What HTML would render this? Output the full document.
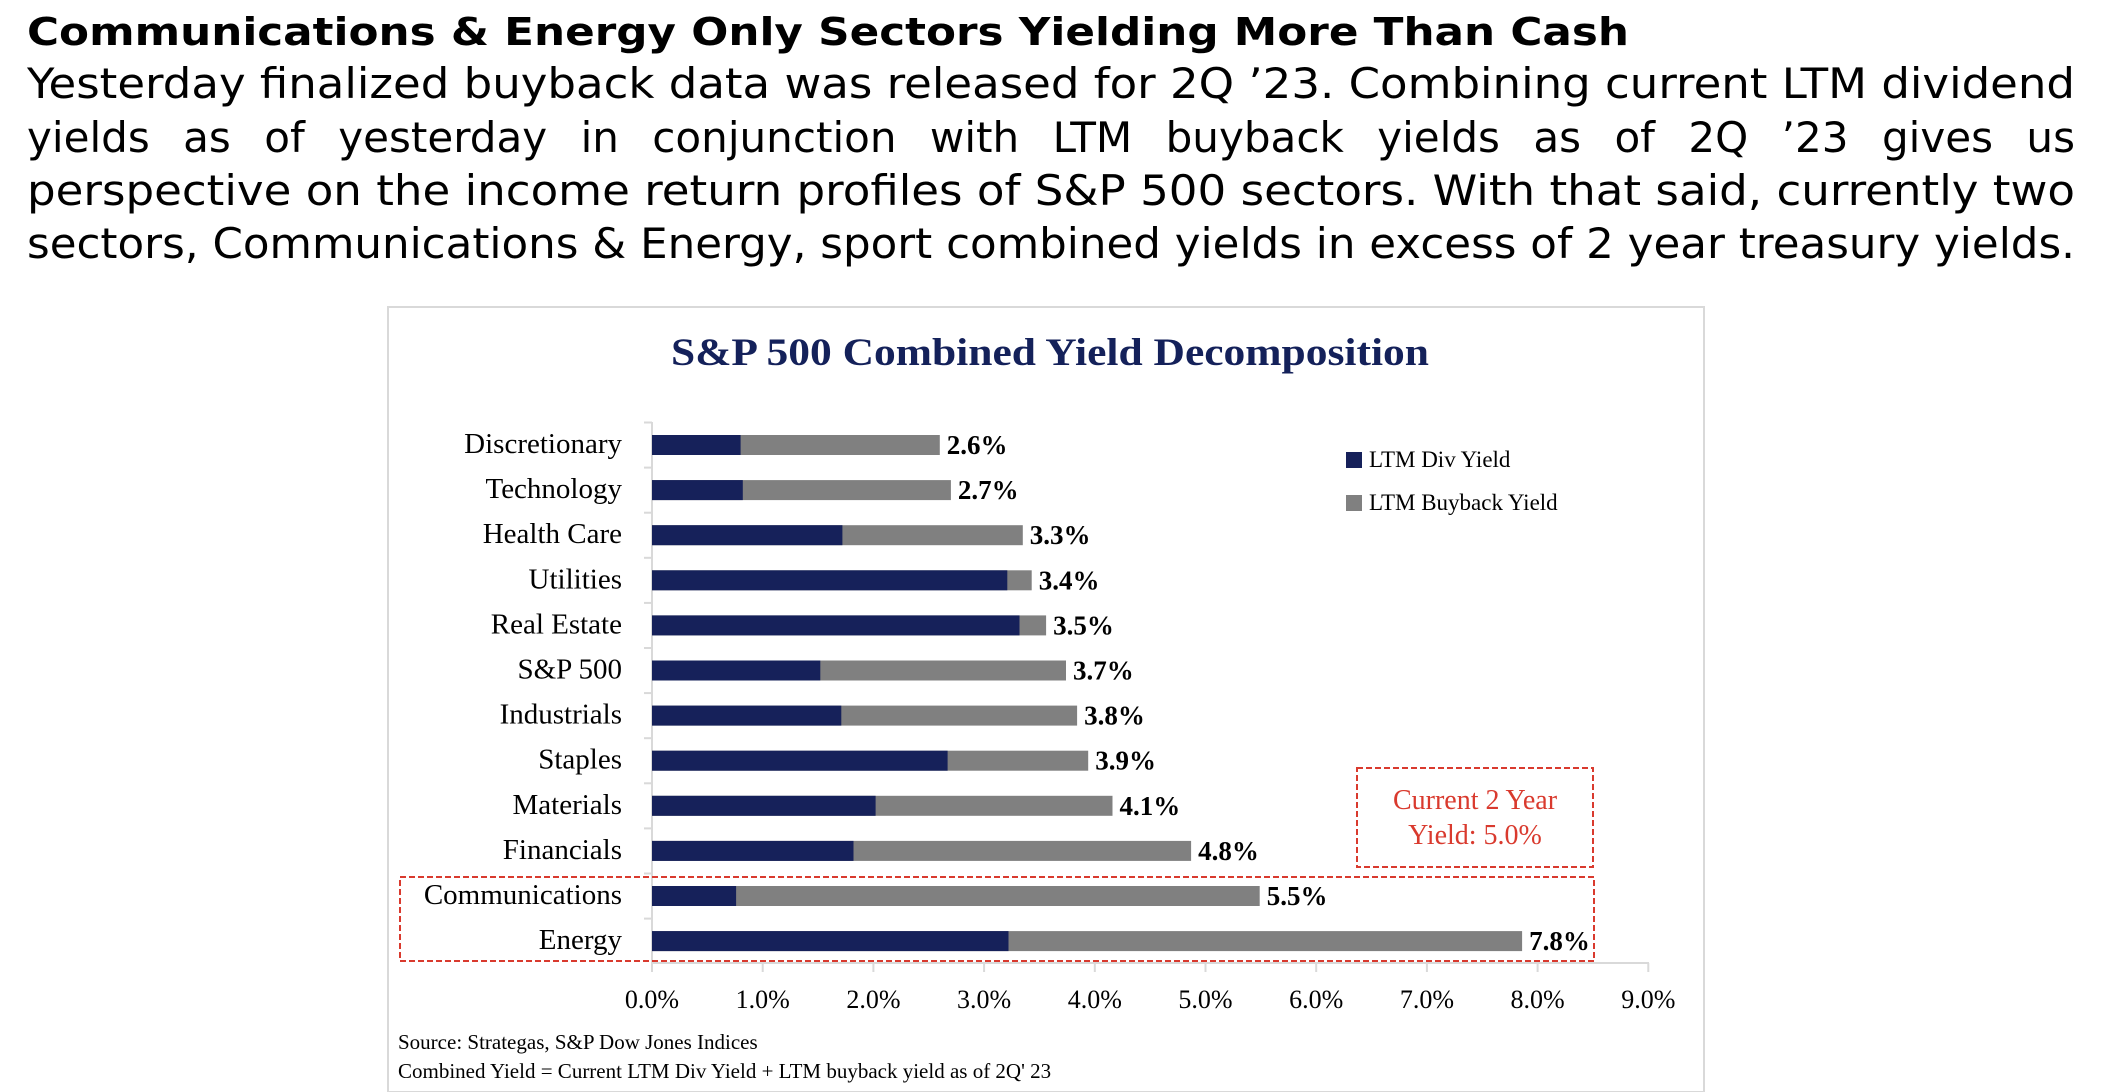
<!DOCTYPE html>
<html><head><meta charset="utf-8"><style>
html,body{margin:0;padding:0;background:#fff;}
svg{display:block;}
</style></head><body>
<svg width="2107" height="1092" viewBox="0 0 2107 1092" xmlns="http://www.w3.org/2000/svg">
<g font-family="DejaVu Sans, Liberation Sans, sans-serif" fill="#000">
<text x="27" y="45" font-size="38" font-weight="bold" textLength="1602" lengthAdjust="spacingAndGlyphs">Communications &amp; Energy Only Sectors Yielding More Than Cash</text>
<text x="27" y="98" font-size="42" textLength="2048" lengthAdjust="spacingAndGlyphs">Yesterday finalized buyback data was released for 2Q ’23. Combining current LTM dividend</text>
<text x="27" y="152" font-size="42" word-spacing="20" textLength="2048" lengthAdjust="spacingAndGlyphs">yields as of yesterday in conjunction with LTM buyback yields as of 2Q ’23 gives us</text>
<text x="27" y="205" font-size="42" textLength="2048" lengthAdjust="spacingAndGlyphs">perspective on the income return profiles of S&amp;P 500 sectors. With that said, currently two</text>
<text x="27" y="258" font-size="42" textLength="2048" lengthAdjust="spacingAndGlyphs">sectors, Communications &amp; Energy, sport combined yields in excess of 2 year treasury yields.</text>
</g>
<rect x="388" y="307" width="1316" height="785" fill="#fff" stroke="#d9d9d9" stroke-width="2"/>
<text x="1050" y="365" font-family="Liberation Serif, serif" font-size="39" font-weight="bold" fill="#14215a" text-anchor="middle" textLength="758" lengthAdjust="spacingAndGlyphs">S&amp;P 500 Combined Yield Decomposition</text>
<g stroke="#d9d9d9" stroke-width="2">
<line x1="652" y1="422" x2="652" y2="964"/>
<line x1="652" y1="963" x2="1649" y2="963"/>
<line x1="644" y1="422.5" x2="652" y2="422.5"/><line x1="644" y1="467.6" x2="652" y2="467.6"/><line x1="644" y1="512.7" x2="652" y2="512.7"/><line x1="644" y1="557.8" x2="652" y2="557.8"/><line x1="644" y1="602.9" x2="652" y2="602.9"/><line x1="644" y1="648" x2="652" y2="648"/><line x1="644" y1="693.1" x2="652" y2="693.1"/><line x1="644" y1="738.2" x2="652" y2="738.2"/><line x1="644" y1="783.3" x2="652" y2="783.3"/><line x1="644" y1="828.4" x2="652" y2="828.4"/><line x1="644" y1="873.5" x2="652" y2="873.5"/><line x1="644" y1="918.6" x2="652" y2="918.6"/>
<line x1="652" y1="963" x2="652" y2="972"/><line x1="762.7" y1="963" x2="762.7" y2="972"/><line x1="873.4" y1="963" x2="873.4" y2="972"/><line x1="984.1" y1="963" x2="984.1" y2="972"/><line x1="1094.8" y1="963" x2="1094.8" y2="972"/><line x1="1205.5" y1="963" x2="1205.5" y2="972"/><line x1="1316.2" y1="963" x2="1316.2" y2="972"/><line x1="1426.9" y1="963" x2="1426.9" y2="972"/><line x1="1537.6" y1="963" x2="1537.6" y2="972"/><line x1="1648.3" y1="963" x2="1648.3" y2="972"/>
</g>
<g>
<rect x="652" y="435" width="287.8" height="20" fill="#808080"/><rect x="652" y="435" width="88.6" height="20" fill="#16215a"/>
<rect x="652" y="480.1" width="298.9" height="20" fill="#808080"/><rect x="652" y="480.1" width="90.8" height="20" fill="#16215a"/>
<rect x="652" y="525.2" width="370.8" height="20" fill="#808080"/><rect x="652" y="525.2" width="190.4" height="20" fill="#16215a"/>
<rect x="652" y="570.3" width="379.7" height="20" fill="#808080"/><rect x="652" y="570.3" width="355.3" height="20" fill="#16215a"/>
<rect x="652" y="615.4" width="394.1" height="20" fill="#808080"/><rect x="652" y="615.4" width="367.5" height="20" fill="#16215a"/>
<rect x="652" y="660.5" width="414" height="20" fill="#808080"/><rect x="652" y="660.5" width="168.3" height="20" fill="#16215a"/>
<rect x="652" y="705.6" width="425.1" height="20" fill="#808080"/><rect x="652" y="705.6" width="189.3" height="20" fill="#16215a"/>
<rect x="652" y="750.7" width="436.2" height="20" fill="#808080"/><rect x="652" y="750.7" width="295.6" height="20" fill="#16215a"/>
<rect x="652" y="795.8" width="460.5" height="20" fill="#808080"/><rect x="652" y="795.8" width="223.6" height="20" fill="#16215a"/>
<rect x="652" y="840.9" width="539.1" height="20" fill="#808080"/><rect x="652" y="840.9" width="201.5" height="20" fill="#16215a"/>
<rect x="652" y="886" width="607.7" height="20" fill="#808080"/><rect x="652" y="886" width="84.1" height="20" fill="#16215a"/>
<rect x="652" y="931.1" width="870.1" height="20" fill="#808080"/><rect x="652" y="931.1" width="356.5" height="20" fill="#16215a"/>
</g>
<g font-family="Liberation Serif, serif" font-size="29" text-anchor="end">
<text x="622" y="453">Discretionary</text>
<text x="622" y="498.1">Technology</text>
<text x="622" y="543.2">Health Care</text>
<text x="622" y="588.3">Utilities</text>
<text x="622" y="633.4">Real Estate</text>
<text x="622" y="678.5">S&amp;P 500</text>
<text x="622" y="723.6">Industrials</text>
<text x="622" y="768.7">Staples</text>
<text x="622" y="813.8">Materials</text>
<text x="622" y="858.9">Financials</text>
<text x="622" y="904">Communications</text>
<text x="622" y="949.1">Energy</text>
</g>
<g font-family="Liberation Serif, serif" font-size="27" font-weight="bold">
<text x="946.8" y="454">2.6%</text>
<text x="957.9" y="499.1">2.7%</text>
<text x="1029.8" y="544.2">3.3%</text>
<text x="1038.7" y="589.3">3.4%</text>
<text x="1053.1" y="634.4">3.5%</text>
<text x="1073" y="679.5">3.7%</text>
<text x="1084.1" y="724.6">3.8%</text>
<text x="1095.2" y="769.7">3.9%</text>
<text x="1119.5" y="814.8">4.1%</text>
<text x="1198.1" y="859.9">4.8%</text>
<text x="1266.7" y="905">5.5%</text>
<text x="1529.1" y="950.1">7.8%</text>
</g>
<g font-family="Liberation Serif, serif" font-size="26" text-anchor="middle">
<text x="652" y="1008">0.0%</text><text x="762.7" y="1008">1.0%</text><text x="873.4" y="1008">2.0%</text><text x="984.1" y="1008">3.0%</text><text x="1094.8" y="1008">4.0%</text><text x="1205.5" y="1008">5.0%</text><text x="1316.2" y="1008">6.0%</text><text x="1426.9" y="1008">7.0%</text><text x="1537.6" y="1008">8.0%</text><text x="1648.3" y="1008">9.0%</text>
</g>
<g font-family="Liberation Serif, serif" font-size="23">
<rect x="1346" y="452" width="16" height="16" fill="#16215a"/>
<text x="1369" y="467">LTM Div Yield</text>
<rect x="1346" y="495" width="16" height="16" fill="#808080"/>
<text x="1369" y="510">LTM Buyback Yield</text>
</g>
<rect x="1357" y="768" width="236" height="99" fill="none" stroke="#d93a2e" stroke-width="2" stroke-dasharray="6,3"/>
<rect x="400" y="877" width="1194" height="84" fill="none" stroke="#d93a2e" stroke-width="2" stroke-dasharray="6,3"/>
<g font-family="Liberation Serif, serif" font-size="28" fill="#d93a2e" text-anchor="middle">
<text x="1475" y="809">Current 2 Year</text>
<text x="1475" y="844">Yield: 5.0%</text>
</g>
<g font-family="Liberation Serif, serif" font-size="21">
<text x="398" y="1049">Source: Strategas, S&amp;P Dow Jones Indices</text>
<text x="398" y="1078">Combined Yield =  Current LTM Div Yield + LTM buyback yield as of 2Q' 23</text>
</g>
</svg>
</body></html>
